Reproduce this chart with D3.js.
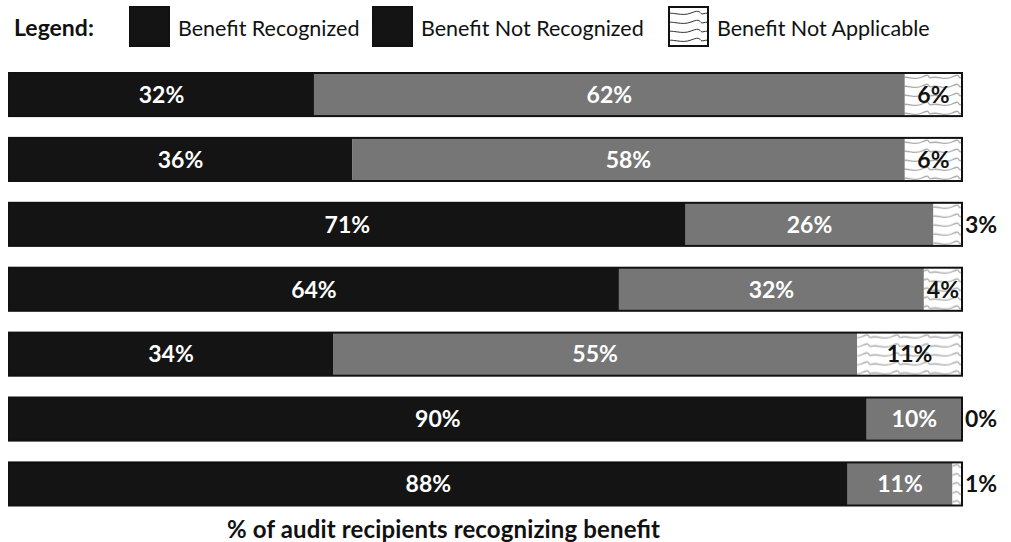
<!DOCTYPE html>
<html>
<head>
<meta charset="UTF-8">
<title>Audit recipients recognizing benefit</title>
<style>
    body { margin: 0; background: #fff; }
    svg { display: block; font-family: Lato, "Open Sans", sans-serif; }
</style>
</head>
<body>
<svg></svg>
<script src="https://d3js.org/d3.v7.min.js"></script>
<script>
    // one entry per bar, top to bottom
    let rows = ["r1", "r2", "r3", "r4", "r5", "r6", "r7"];
    let recognized = [32, 36, 71, 64, 34, 90, 88];
    let notRecognized = [62, 58, 26, 32, 55, 10, 11];
    let notApplicable = [6, 6, 3, 4, 11, 0, 1];
    let seriesNames = ["Benefit Recognized", "Benefit Not Recognized", "Benefit Not Applicable"];
    let axisTitle = "% of audit recipients recognizing benefit";

    let width = 1011, height = 542;
    let svg = d3.select("svg").attr("width", width).attr("height", height);

    let fills = ["#141414", "#767676", "url(#wavy)"];

    // texture for the "not applicable" pieces
    let defs = svg.append("defs");
    let pat = defs.append("pattern")
        .attr("id", "wavy")
        .attr("patternUnits", "userSpaceOnUse")
        .attr("width", 30).attr("height", 9);
    pat.append("rect").attr("width", 30).attr("height", 9).attr("fill", "#fff");
    pat.append("path")
        .attr("d", "M0,5 C8,2 14,8 22,4 S28,4 30,5")
        .attr("fill", "none").attr("stroke", "#aaa").attr("stroke-width", 1.3);

    let legPat = defs.append("pattern")
        .attr("id", "wavyLeg")
        .attr("patternUnits", "userSpaceOnUse")
        .attr("width", 39).attr("height", 9);
    legPat.append("rect").attr("width", 39).attr("height", 9).attr("fill", "#fff");
    legPat.append("path")
        .attr("d", "M0,5 C10,2 18,8 28,4 S36,4 39,5")
        .attr("fill", "none").attr("stroke", "#333").attr("stroke-width", 1);

    let x = d3.scaleLinear().domain([0, 100]).range([9, 962]);
    let y = d3.scaleBand().domain(rows).range([73, 505.5]).paddingInner(0.336).paddingOuter(0);

    let data = rows.map((r, i) => {
        let vals = [recognized[i], notRecognized[i], notApplicable[i]];
        let start = 0;
        return {
            row: r,
            segs: vals.map((v, k) => {
                let s = { k: k, v: v, x0: start, x1: start + v };
                start += v;
                return s;
            })
        };
    });

    let bars = svg.append("g").selectAll("g")
        .data(data)
        .join("g")
        .attr("transform", d => "translate(0," + y(d.row) + ")");

    bars.selectAll("rect")
        .data(d => d.segs.filter(s => s.v > 0))
        .join("rect")
        .attr("x", s => x(s.x0))
        .attr("width", s => x(s.x1) - x(s.x0))
        .attr("height", y.bandwidth())
        .attr("fill", s => fills[s.k]);

    // outline around whole bar
    bars.append("rect")
        .attr("x", x(0))
        .attr("width", x(100) - x(0))
        .attr("height", y.bandwidth())
        .attr("fill", "none")
        .attr("stroke", "#111")
        .attr("stroke-width", 2);

    bars.selectAll("text")
        .data(d => d.segs)
        .join("text")
        .attr("x", s => {
            if (s.k == 2 && s.v < 4) return x(100) + 3;
            return (x(s.x0) + x(s.x1)) / 2;
        })
        .attr("y", y.bandwidth() / 2)
        .attr("dy", "0.36em")
        .attr("text-anchor", s => (s.k == 2 && s.v < 4) ? "start" : "middle")
        .attr("font-size", 23)
        .attr("font-weight", "bold")
        .attr("fill", s => s.k == 2 ? "#111" : "#fff")
        .text(s => s.v + "%");

    // legend
    let legend = svg.append("g");
    legend.append("text")
        .attr("x", 14).attr("y", 28).attr("dy", "0.35em")
        .attr("font-size", 23).attr("font-weight", "bold").attr("fill", "#111")
        .text("Legend:");
    let legX = [130, 373, 669];
    seriesNames.forEach((name, i) => {
        legend.append("rect")
            .attr("x", legX[i]).attr("y", 7)
            .attr("width", 39).attr("height", 39)
            .attr("fill", i == 0 ? fills[0] : i == 1 ? "#141414" : "url(#wavyLeg)")
            .attr("stroke", "#111").attr("stroke-width", 2);
        legend.append("text")
            .attr("x", legX[i] + 48).attr("y", 28).attr("dy", "0.35em")
            .attr("font-size", 21.5).attr("fill", "#111")
            .text(name);
    });

    svg.append("text")
        .attr("x", 227).attr("y", 538)
        .attr("font-size", 24).attr("font-weight", "bold").attr("fill", "#111")
        .attr("textLength", 433).attr("lengthAdjust", "spacing")
        .text(axisTitle);
</script>
</body>
</html>
